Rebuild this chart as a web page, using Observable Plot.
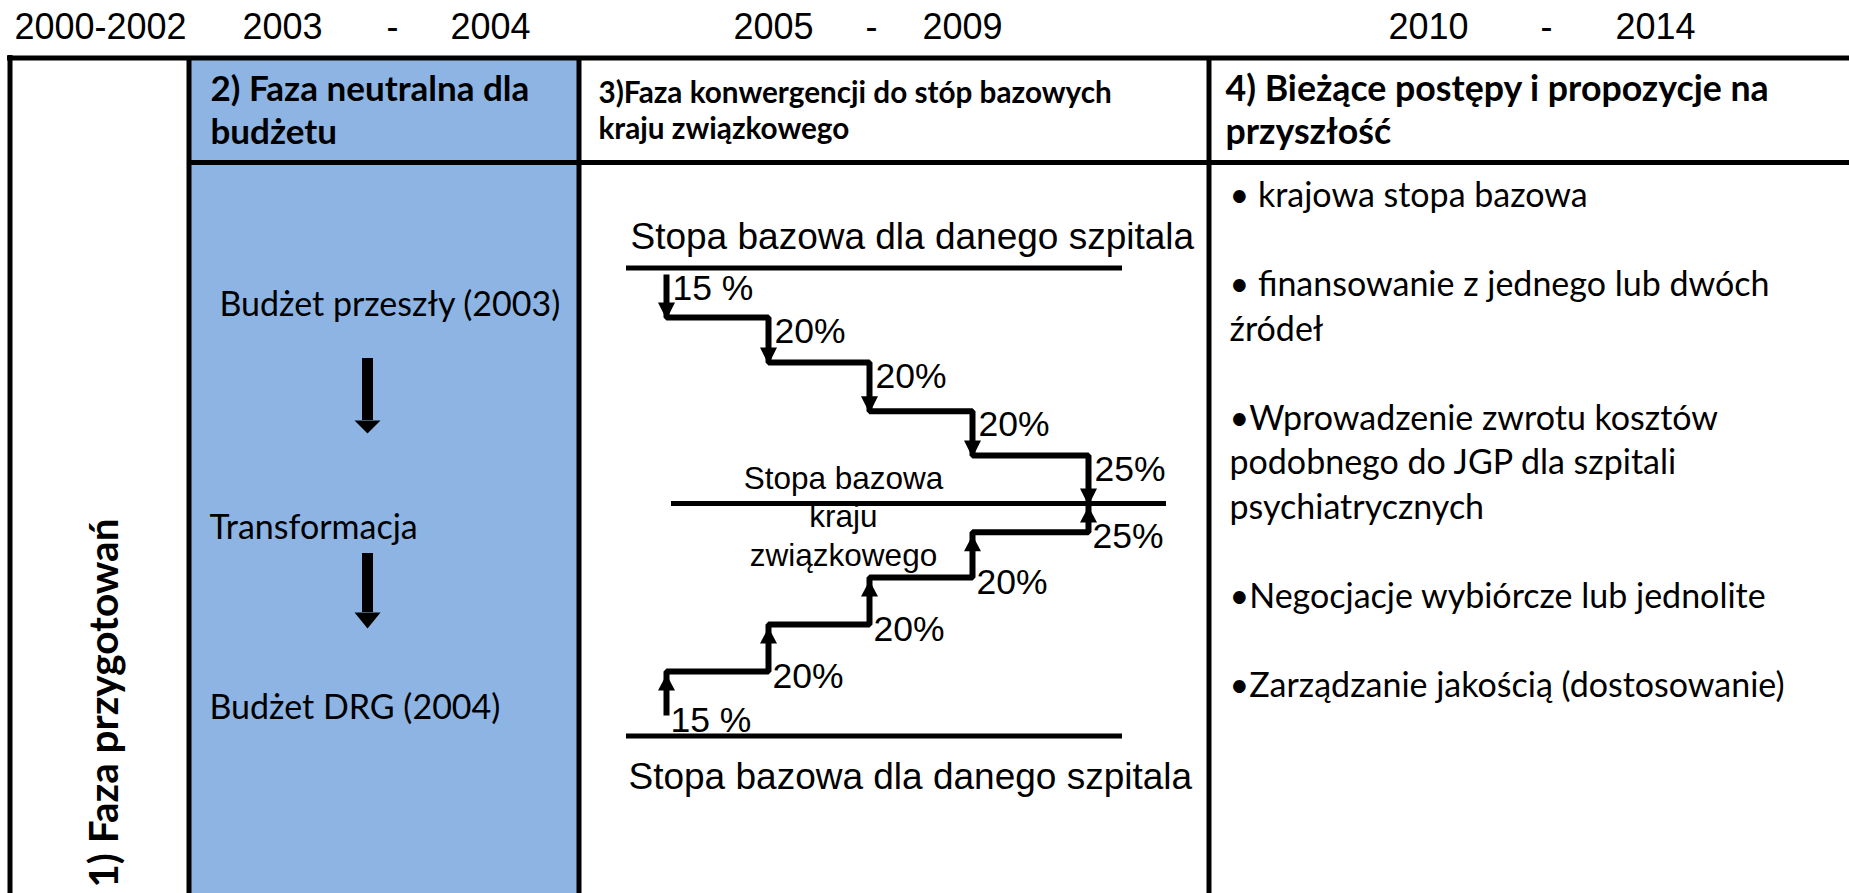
<!DOCTYPE html>
<html><head><meta charset="utf-8">
<script src="https://cdn.jsdelivr.net/npm/d3@7"></script>
<script src="https://cdn.jsdelivr.net/npm/@observablehq/plot@0.6"></script>
<style>html,body{margin:0;padding:0;background:#fff;overflow:hidden}#chart svg{display:block}</style>
</head><body><div id="chart"></div>
<script>
// ---------------- DATA (content only) ----------------
const periods = [["2000-2002"], ["2003", "-", "2004"], ["2005", "-", "2009"], ["2010", "-", "2014"]];
const phaseTitles = [
  "1) Faza przygotowań",
  "2) Faza neutralna dla\nbudżetu",
  "3)Faza konwergencji do stóp bazowych\nkraju związkowego",
  "4) Bieżące postępy i propozycje na\nprzyszłość"
];
const budgetSteps = ["Budżet przeszły (2003)", "Transformacja", "Budżet DRG (2004)"];
const convergenceShares = [15, 20, 20, 20, 25];          // % of gap closed per year
const shareLabels = ["15 %", "20%", "20%", "20%", "25%"];
const hospitalRateLabel = "Stopa bazowa dla danego szpitala";
const stateRateLabel = ["Stopa bazowa", "kraju", "związkowego"];
const currentItems = [
  ["• krajowa stopa bazowa"],
  ["• finansowanie z jednego lub dwóch", "źródeł"],
  ["•Wprowadzenie zwrotu kosztów", "podobnego do JGP dla szpitali", "psychiatrycznych"],
  ["•Negocjacje wybiórcze lub jednolite"],
  ["•Zarządzanie jakością (dostosowanie)"]
];

// ---------------- LAYOUT (positions / styles) ----------------
const W = 1849, H = 893;
const L = {
  cols: [9.5, 188.5, 578.5, 1208.5],
  top: 57.5, headBottom: 162, bottom: H + 10,
  blue: "#8DB4E2",
  yearBaseline: 38,
  yearX: [[100], [282, 392, 490], [773, 871, 962], [1428, 1546, 1655]],
  heads: [
    {x: 210, base: [100, 143], size: 35},
    {x: 598, base: [102, 138.5], size: 29.7},
    {x: 1225, base: [100, 143], size: 35.7}
  ],
  vTitle: {x: 105, yEnd: 518, size: 40.5},
  budget: {x: [219, 209, 209], base: [315, 538.6, 718.7], size: 34},
  budgetArrows: [{x: 367, y1: 358, y2: 420, tip: 433}, {x: 367, y1: 553, y2: 612, tip: 628}],
  stairX: [666, 768, 869, 972, 1088],
  topLevels: [274, 317, 362, 410.7, 455, 503],
  bottomLevels: [715, 671, 624, 577, 531.7, 503],
  refLines: [{y: 267.5, x1: 626, x2: 1122}, {y: 503, x1: 671, x2: 1166}, {y: 735.5, x1: 626, x2: 1122}],
  hospTitle: [{x: 630, base: 248}, {x: 628, base: 788}],
  stateX: 843, stateBase: [488, 526.5, 565],
  items: {x: 1229, base: 206.5, gap: 44.5, size: 34}
};
const SANS = "'Liberation Sans', Arial, sans-serif";
const BODY = "Lato, 'Open Sans', sans-serif";

// ---------------- derived rows ----------------
const yearRows = periods.flatMap((parts, i) => parts.map((t, j) => ({t, x: L.yearX[i][j]})));
const headRows = phaseTitles.slice(1).flatMap((title, i) =>
  title.split("\n").map((t, k) => ({t, x: L.heads[i].x, y: L.heads[i].base[k], size: L.heads[i].size})));
const budgetRows = budgetSteps.map((t, i) => ({t, x: L.budget.x[i], y: L.budget.base[i]}));

// Staircases (one step per year of convergence)
function stairPath(levels, id) {
  return convergenceShares.flatMap((_, i) => [
    {id, x: L.stairX[i], y: levels[i]},
    {id, x: L.stairX[i], y: levels[i + 1]}
  ]);
}
const stairs = [...stairPath(L.topLevels, "down"), ...stairPath(L.bottomLevels, "up")];

function tri(id, x, tip, dir, half, len) {
  const base = tip - dir * len;
  return [{id, x: x - half, y: base}, {id, x, y: tip}, {id, x: x + half, y: base}];
}
const heads = [
  ...convergenceShares.flatMap((_, i) => tri("d" + i, L.stairX[i], L.topLevels[i + 1] + 2, 1, 8.5, 17)),
  ...convergenceShares.flatMap((_, i) => tri("u" + i, L.stairX[i], L.bottomLevels[i + 1] + 3, -1, 8.5, 16)),
  ...L.budgetArrows.flatMap((a, i) => tri("b" + i, a.x, a.tip, 1, 13, a.tip - a.y2))
];
const shareRows = [
  ...convergenceShares.map((v, i) => ({t: shareLabels[i], x: L.stairX[i] + 6, y: L.topLevels[i] + 25})),
  ...convergenceShares.map((v, i) => ({t: shareLabels[i], x: L.stairX[i] + 4, y: L.bottomLevels[i] + 16}))
];
const hospRows = L.hospTitle.map(p => ({t: hospitalRateLabel, x: p.x, y: p.base}));
const stateRows = stateRateLabel.map((t, i) => ({t, x: L.stateX, y: L.stateBase[i]}));
let lineIdx = 0;
const itemRows = [];
currentItems.forEach(lines => {
  lines.forEach(t => { itemRows.push({t, x: L.items.x, y: L.items.base + lineIdx * L.items.gap}); lineIdx++; });
  lineIdx++;
});

const vRules = [
  {x: L.cols[0], y1: L.top - 2.5, y2: L.bottom},
  ...L.cols.slice(1).map(x => ({x, y1: L.top, y2: L.bottom}))
];
const hRules = [
  {y: L.top, x1: L.cols[0] - 2.5, x2: W + 10},
  {y: L.headBottom, x1: L.cols[1], x2: W + 10}
];

const chart = Plot.plot({
  width: W, height: H, margin: 0,
  x: {domain: [0, W], range: [0, W], axis: null},
  y: {domain: [0, H], range: [0, H], axis: null},
  style: {background: "white"},
  marks: [
    Plot.rect([{}], {x1: () => L.cols[1], x2: () => L.cols[2], y1: () => L.top, y2: () => L.bottom, fill: L.blue}),
    Plot.ruleX(vRules, {x: "x", y1: "y1", y2: "y2", stroke: "black", strokeWidth: 5}),
    Plot.ruleY(hRules, {y: "y", x1: "x1", x2: "x2", stroke: "black", strokeWidth: 5}),
    // years
    Plot.text(yearRows, {x: "x", y: () => L.yearBaseline, text: "t", fontFamily: SANS, fontSize: 36,
      textAnchor: "middle", lineAnchor: "bottom", fill: "black"}),
    // phase headers
    Plot.text(headRows, {x: "x", y: "y", text: "t", fontSize: d => d.size, fontFamily: BODY, fontWeight: "bold",
      textAnchor: "start", lineAnchor: "bottom", fill: "black"}),
    Plot.text([phaseTitles[0]], {x: () => L.vTitle.x, y: () => L.vTitle.yEnd, text: d => d, rotate: -90,
      fontSize: L.vTitle.size, fontFamily: BODY, fontWeight: "bold", textAnchor: "end", lineAnchor: "middle", fill: "black"}),
    // phase 2
    Plot.text(budgetRows, {x: "x", y: "y", text: "t", fontSize: L.budget.size, fontFamily: BODY,
      textAnchor: "start", lineAnchor: "bottom", fill: "black"}),
    Plot.ruleX(L.budgetArrows, {x: "x", y1: "y1", y2: "y2", stroke: "black", strokeWidth: 11}),
    // phase 3
    Plot.ruleY(L.refLines, {y: "y", x1: "x1", x2: "x2", stroke: "black", strokeWidth: 5}),
    Plot.line(stairs, {x: "x", y: "y", z: "id", stroke: "black", strokeWidth: 6,
      strokeLinejoin: "miter", strokeLinecap: "butt"}),
    Plot.line(heads, {x: "x", y: "y", z: "id", fill: "black", stroke: "none"}),
    Plot.text(shareRows, {x: "x", y: "y", text: "t", fontFamily: SANS, fontSize: 35.5,
      textAnchor: "start", lineAnchor: "bottom", fill: "black"}),
    Plot.text(hospRows, {x: "x", y: "y", text: "t", fontFamily: SANS, fontSize: 37,
      textAnchor: "start", lineAnchor: "bottom", fill: "black"}),
    Plot.text(stateRows, {x: "x", y: "y", text: "t", fontFamily: SANS, fontSize: 31.5,
      textAnchor: "middle", lineAnchor: "bottom", fill: "black"}),
    // phase 4
    Plot.text(itemRows, {x: "x", y: "y", text: "t", fontFamily: BODY, fontSize: L.items.size,
      textAnchor: "start", lineAnchor: "bottom", fill: "black"})
  ]
});
document.getElementById("chart").appendChild(chart);
</script>
</body></html>
